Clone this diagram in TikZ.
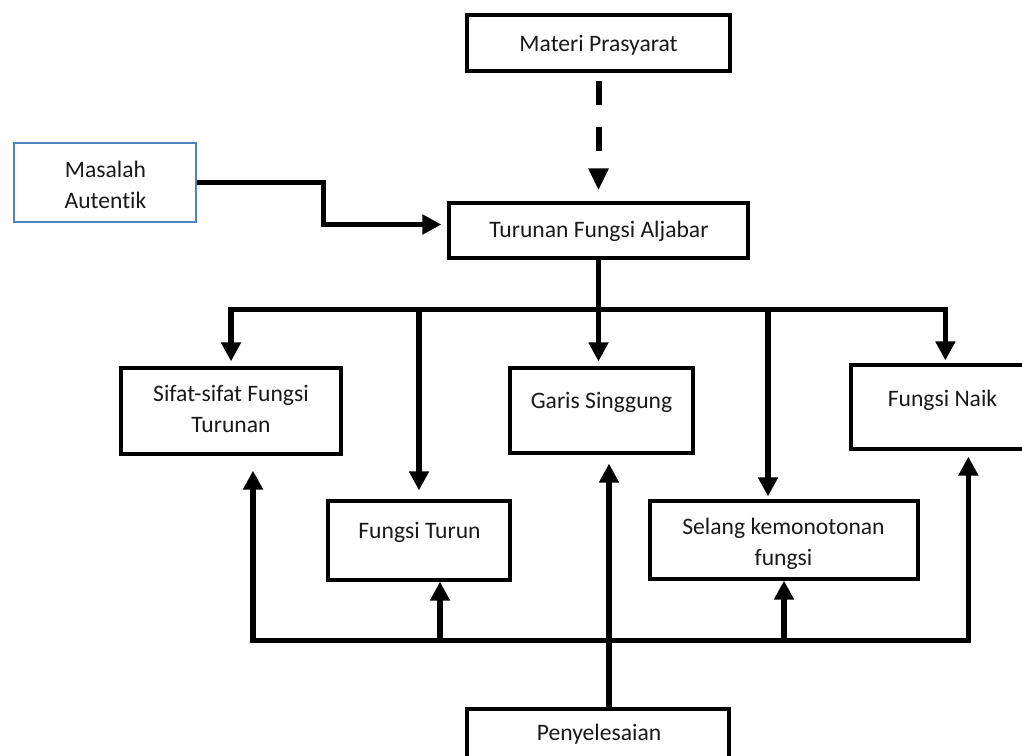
\documentclass[tikz,border=0pt]{standalone}
\usepackage{fontspec}
\setmainfont{Carlito}[Ligatures={NoCommon}]
\usetikzlibrary{arrows.meta,fit,calc}
\definecolor{boxblue}{RGB}{79,129,189}
\newcommand\stk[2]{\begin{tabular}[t]{@{}c@{}}#1\\#2\end{tabular}}

\begin{document}
\begin{tikzpicture}[x=0.5pt,y=-0.5pt,
  box/.style={draw=black,line width=1.6pt,inner sep=0pt},
  bluebox/.style={draw=boxblue,line width=1.3pt,inner sep=0pt},
  lbl/.style={anchor=base,inner sep=0pt,text=black!90,
    font=\fontsize{11.8pt}{15.5pt}\selectfont},
  wire/.style={line width=2.8pt,line join=miter},
  arr/.style={wire,-{Triangle[length=9.5pt,width=9.5pt]}},
  dasharr/.style={line width=3pt,dash pattern=on 12pt off 11pt,
    -{Triangle[length=11pt,width=9.5pt]}}]

\useasboundingbox (0,0) rectangle (1022,755);

% boxes
\node[box,line width=2pt,fit={(467,15) (730,71)}] (mat) {};
\node[bluebox,fit={(14,143) (196,222)}] (mas) {};
\node[box,fit={(449,203) (748,258)}] (tur) {};
\node[box,fit={(121,368) (341,454)}] (sif) {};
\node[box,fit={(510,368) (693,453)}] (gar) {};
\node[box,fit={(851,365) (1040,449)}] (nai) {};
\node[box,fit={(328,501) (510,580)}] (tun) {};
\node[box,fit={(650,501) (918,579)}] (sel) {};
\node[box,fit={(467,709) (729,775)}] (pen) {};

% labels
\node[lbl] (tmat) at (598.5,51) {Materi Prasyarat};
\node[lbl] (tmas) at (105.5,177) {\stk{Masalah}{Autentik}};
\node[lbl] (ttur) at (599,237) {Turunan Fungsi Aljabar};
\node[lbl] (tsif) at (231,401) {\stk{Sifat-sifat Fungsi}{Turunan}};
\node[lbl] (tgar) at (601.5,408) {Garis Singgung};
\node[lbl] (tnai) at (942.5,406) {Fungsi Naik};
\node[lbl] (ttun) at (419.5,538) {Fungsi Turun};
\node[lbl] (tsel) at (783.5,534) {\stk{Selang kemonotonan}{fungsi}};
\node[lbl] (tpen) at (599,740) {Penyelesaian};

% prerequisite link
\draw[dasharr,shorten <=4pt,shorten >=5.5pt] (mat.south) -- (tur.north);

% authentic problem feeds the main topic
\draw[arr,shorten >=3pt] (mas.east) -- ++(126,0) |- ($(tur.west)+(0,-6)$);

% upper distribution bus
\coordinate (hub) at ($(tur.south)+(0,50)$);
\coordinate (naiin) at ($(nai.north west)+(96,0)$);
\coordinate (selin) at ($(sel.north)+(-16,0)$);
\draw[wire] (tur.south) -- (hub);
\draw[arr,shorten >=2.5pt] (hub) -| (sif.north);
\draw[arr,shorten >=1.5pt] (hub) -| (naiin);
\draw[arr,shorten >=2.5pt] (hub) -- (hub |- gar.north);
\draw[arr,shorten >=4.5pt] (hub -| tun.north) -- (tun.north);
\draw[arr,shorten >=1.5pt] (hub -| selin) -- (selin);

% lower collecting bus from the solution
\coordinate (penup) at ($(pen.north)+(11,0)$);
\coordinate (hubB) at ($(penup)+(0,-67)$);
\coordinate (sifup) at ($(sif.south)+(22,0)$);
\coordinate (naiup) at ($(nai.south west)+(119,0)$);
\coordinate (tunup) at ($(tun.south)+(21,0)$);
\draw[arr,shorten >=4.5pt] (penup) -- (penup |- gar.south);
\draw[arr,shorten >=7.5pt] (hubB) -| (sifup);
\draw[arr,shorten >=3pt] (hubB) -| (naiup);
\draw[arr] (hubB -| tunup) -- (tunup);
\draw[arr] (hubB -| sel.south) -- (sel.south);
\end{tikzpicture}
\end{document}
